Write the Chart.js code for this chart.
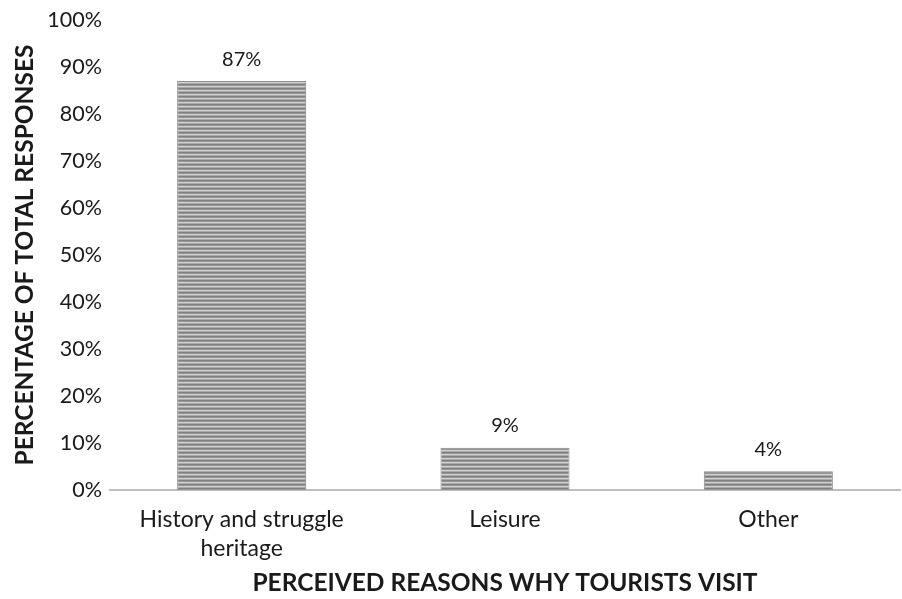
<!DOCTYPE html>
<html>
<head>
<meta charset="utf-8">
<script src="https://cdn.jsdelivr.net/npm/chart.js@4.4.0/dist/chart.umd.min.js"></script>
<style>
  html, body { margin: 0; padding: 0; background: #fff; }
  #wrap { width: 902px; height: 599px; }
</style>
</head>
<body>
<div id="wrap"><canvas id="barChart" width="902" height="599"></canvas></div>
<script>
var categories = [["History and struggle", "heritage"], "Leisure", "Other"];
var shares = [87, 9, 4];
var shareLabels = ["87%", "9%", "4%"];
var yTicks = [0, 10, 20, 30, 40, 50, 60, 70, 80, 90, 100];

var FONT = "Lato, 'Open Sans', sans-serif";

// striped gray fill like the original print
function stripes() {
  var c = document.createElement("canvas");
  c.width = 4; c.height = 4;
  var g = c.getContext("2d");
  var rows = ["#808080", "#959595", "#d2d2d2", "#a9a9a9"];
  for (var i = 0; i < rows.length; i++) {
    g.fillStyle = rows[i];
    g.fillRect(0, i, 4, 1);
  }
  return g.createPattern(c, "repeat");
}

var valueLabels = {
  id: "valueLabels",
  afterDatasetsDraw: function(chart) {
    var ctx = chart.ctx;
    var meta = chart.getDatasetMeta(0);
    ctx.save();
    ctx.font = "20px " + FONT;
    ctx.fillStyle = "#1a1a1a";
    ctx.textAlign = "center";
    ctx.textBaseline = "middle";
    meta.data.forEach(function(bar, i) {
      ctx.fillText(shareLabels[i], bar.x, bar.y - 22);
    });
    ctx.restore();
  }
};

new Chart(document.getElementById("barChart").getContext("2d"), {
  type: "bar",
  data: {
    labels: categories,
    datasets: [{
      data: shares,
      backgroundColor: stripes(),
      borderColor: "#8c8c8c",
      borderWidth: 1,
      barPercentage: 0.49,
      categoryPercentage: 1
    }]
  },
  options: {
    responsive: false,
    animation: false,
    layout: { padding: { top: 20, right: 2, left: 0, bottom: 0 } },
    plugins: {
      legend: { display: false },
      tooltip: { enabled: false }
    },
    scales: {
      x: {
        grid: { display: false },
        border: { display: true, color: "#bfbfbf", width: 2 },
        ticks: {
          color: "#1a1a1a",
          padding: 7,
          font: { family: FONT, size: 23, lineHeight: 1.25 },
          maxRotation: 0
        },
        title: {
          display: true,
          text: "PERCEIVED REASONS WHY TOURISTS VISIT",
          color: "#1a1a1a",
          font: { family: FONT, size: 24.5, weight: "bold" },
          padding: { top: 0, bottom: 1 }
        },
        afterFit: function(scale) { scale.height = 109; }
      },
      y: {
        min: 0,
        max: 100,
        afterBuildTicks: function(scale) {
          scale.ticks = yTicks.map(function(v) { return { value: v }; });
        },
        grid: { display: false },
        border: { display: false },
        ticks: {
          color: "#1a1a1a",
          padding: 0,
          font: { family: FONT, size: 21.5 },
          callback: function(v) { return v + "%"; }
        },
        title: {
          display: true,
          text: "PERCENTAGE OF TOTAL RESPONSES",
          color: "#1a1a1a",
          font: { family: FONT, size: 24.5, weight: "bold" },
          padding: { top: 10, bottom: 0 }
        },
        afterFit: function(scale) { scale.width = 110; }
      }
    }
  },
  plugins: [valueLabels]
});
</script>
</body>
</html>
